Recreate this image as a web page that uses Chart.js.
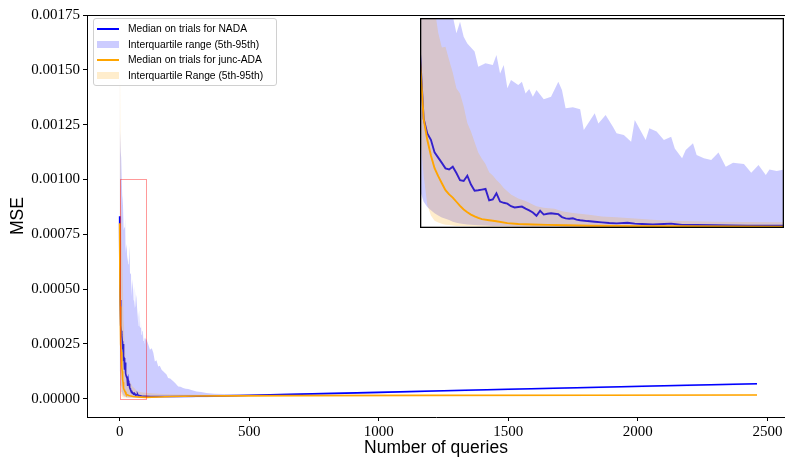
<!DOCTYPE html>
<html>
<head>
<meta charset="utf-8">
<script src="https://cdn.jsdelivr.net/npm/chart.js@4.4.1/dist/chart.umd.min.js"></script>
<style>
  html, body { margin: 0; padding: 0; background: #fff; overflow: hidden; }
  #wrap { position: relative; width: 785px; height: 457px; }
  #inset { position: absolute; left: 420px; top: 18px; background: #fff; }
  #legend { position: absolute; left: 93px; top: 18px; width: 184px; height: 68px; padding-top: 2px;
    box-sizing: border-box; background: rgba(255,255,255,0.8); border: 1px solid #d0d0d0; border-radius: 3px;
    font: 10.3px "Liberation Sans", Arial, sans-serif; color: #000; }
  .item { height: 15.5px; display: flex; align-items: center; white-space: nowrap; }
  .key { width: 22px; margin: 0 9px 0 3px; }
</style>
</head>
<body>
<div id="wrap">
  <canvas id="main" width="785" height="457"></canvas>
  <canvas id="inset" width="364" height="210"></canvas>
  <div id="legend"></div>
</div>
<script>
// values are MSE in units of 1e-6
const nadaX = [0,1,2,3,4,5,6,7,8,9,10,11,12,13,14,15,16,17,18,19,20,21,22,23,24,25,26,27,28,29,
  30,31,32,33,34,35,36,37,38,39,40,41,42,43,44,
  46,48,50,52,54,57,59,61,64,67,69,72,76,81,85,90,95,100,
  120,150,200,300,400,500,700,1000,1250,1500,1850,2100,2460];
const nadaMedian = [832,520,450,420,360,335,310,284,279,292,262,228,224,249,207,178,180,183,186,132,136,165,126,120,116,104,98,100,102,92,
  84,74,58,82,64,68,70,68,66,52,46,44,46,40,37,
  33,30,27,24,22,25,21,19,17,19,21,14,14,13,12,11,11,11,
  10,10,10,11,13,16,21,29,36,43,52,59,68];

const nadaBandX = [0,1,2,3,4,5,6,7,8,9,10,11,12,13,
  15,16,18,20,21,22,23,24,25,27,28,29,30,31,32,34,36,38,39,40,
  42,44,45,48,49,51,53,54,56,58,59,62,63,65,67,69,70,72,73,75,
  76,78,80,82,84,86,89,91,93,95,96,98,100,
  104,110,117,124,130,136,142,149,155,162,168,175,181,187,195,207,215,226,235,245,
  255,265,280,297,315,335,365,400,464,550,700,1000,1500,1850,2460];
const nadaHigh = [1900,1250,1200,1180,1150,1130,1100,1080,1060,1010,927,982,911,879,
  840,768,784,776,824,736,776,665,705,681,697,641,662,625,657,613,625,697,657,570,
  575,565,467,546,498,538,482,451,443,411,514,419,475,459,419,435,379,332,371,403,
  348,332,324,359,292,311,305,263,300,252,279,271,279,
  269,250,223,230,210,170,175,147,150,132,125,117,110,94,92,79,70,56,55,49,
  45,44,38,33,30,26,23,21,18,20,25,33,47,56,72];
const nadaLow = [180,125,100,85,70,60,50,44,38,30,25,22,19,17,
  14,13,12,10,10,9,9,8,8,7,7,7,7,6,6,6,6,6,5,5,
  5,5,5,5,5,5,4,4,4,4,4,4,4,4,4,4,4,4,4,4,
  4,4,4,4,4,4,4,4,4,4,4,4,4,
  4,4,4,4,4,4,4,5,5,5,5,5,5,5,5,5,6,6,6,6,
  6,6,6,7,7,7,8,8,9,11,17,25,39,48,64];

const juncX = [0,1,2,3,4,5,6,7,8,9,10,11,12,13,14,15,16,17,19,21,24,27,31,35,40,47,54,63,72,85,100,
  150,200,300,400,700,1200,1850,2460];
const juncMedian = [800,520,420,345,285,247,213,180,160,145,125,105,88,75,64,55,48,42,37,32,23,19,17,15,13,11,10,9,8,7,6,
  8,10,12,13,14,15,16,17];

const juncBandX = [0,1,2,3,4,5,6,7,8,9,10,11,12,13,14,15,16,17,18,19,
  20,21,22,23,25,27,29,30,32,34,37,39,42,44,47,50,54,58,63,67,
  72,81,90,100,150,200,300,500,700,1200,1850,2460];
const juncHigh = [2000,1700,1400,1200,1050,930,860,863,800,740,665,640,580,500,460,410,360,330,305,265,
  250,228,212,190,160,140,128,120,104,96,92,80,72,68,62,55,51,47,40,36,
  33,30,28,27,22,20,18,17,18,18,19,20];
const juncLow = [450,250,110,60,35,26,20,16,14,12,10,9,8,8,7,7,6,6,6,5,
  5,5,5,5,5,5,4,4,4,4,4,4,4,4,4,4,4,4,4,4,
  4,4,4,4,6,8,10,11,12,12,13,14];

const xTicks = [0, 500, 1000, 1500, 2000, 2500];
const xTickLabels = ['0', '500', '1000', '1500', '2000', '2500'];
const yTicks = [0, 0.00025, 0.0005, 0.00075, 0.001, 0.00125, 0.0015, 0.00175];
const yTickLabels = ['0.00000','0.00025','0.00050','0.00075','0.00100','0.00125','0.00150','0.00175'];

const insetXRange = [0, 100];
const insetYRange = [0, 0.001];

const labels = ['Median on trials for NADA', 'Interquartile range (5th-95th)',
  'Median on trials for junc-ADA', 'Interquartile Range (5th-95th)'];

const BLUE = '#0000ff', BLUE_FILL = 'rgba(0,0,255,0.2)';
const ORANGE = '#ffa500', ORANGE_FILL = 'rgba(255,165,0,0.2)';

function pts(xs, ys) {
  return xs.map((x, i) => ({ x: x, y: ys[i] * 1e-6 }));
}

function makeDatasets(lw) {
  return [
    { data: pts(nadaBandX, nadaLow), borderWidth: 0, fill: false, order: 7 },
    { label: labels[1], data: pts(nadaBandX, nadaHigh), borderWidth: 0, backgroundColor: BLUE_FILL, fill: '-1', order: 6 },
    { label: labels[0], data: pts(nadaX, nadaMedian), borderColor: BLUE, borderWidth: lw, fill: false, order: 5 },
    { data: pts(juncBandX, juncLow), borderWidth: 0, fill: false, order: 4 },
    { label: labels[3], data: pts(juncBandX, juncHigh), borderWidth: 0, backgroundColor: ORANGE_FILL, fill: '-1', order: 3 },
    { label: labels[2], data: pts(juncX, juncMedian), borderColor: ORANGE, borderWidth: lw, fill: false, order: 2 }
  ];
}

// spines: top line on the main plot, full box on the inset; plus the zoom rectangle
const frame = {
  id: 'frame',
  afterDatasetsDraw(chart, args, opts) {
    const a = chart.chartArea, c = chart.ctx;
    c.save();
    c.strokeStyle = '#000';
    c.lineWidth = 1;
    if (opts.full) {
      c.lineWidth = 1.3;
      c.strokeRect(a.left + 0.65, a.top + 0.65, a.right - a.left - 1.3, a.bottom - a.top - 1.3);
    } else {
      c.beginPath();
      c.moveTo(a.left, a.top + 0.5);
      c.lineTo(a.right, a.top + 0.5);
      c.stroke();
    }
    if (opts.box) {
      const xs = chart.scales.x, ys = chart.scales.y;
      const x0 = Math.round(xs.getPixelForValue(insetXRange[0])) + 0.5;
      const x1 = Math.round(xs.getPixelForValue(insetXRange[1])) + 0.5;
      const y0 = Math.round(ys.getPixelForValue(insetYRange[0])) + 0.5;
      const y1 = Math.round(ys.getPixelForValue(insetYRange[1])) + 0.5;
      c.strokeStyle = 'rgba(255,0,0,0.4)';
      c.lineWidth = 1;
      c.strokeRect(x0, y1, x1 - x0, y0 - y1);
    }
    c.restore();
  }
};

Chart.defaults.font.family = 'Liberation Serif';
Chart.defaults.color = '#000';

new Chart(document.getElementById('main'), {
  type: 'line',
  data: { datasets: makeDatasets(1.6) },
  options: {
    responsive: false,
    animation: false,
    layout: { padding: { top: 15, left: 0, right: 0, bottom: 0 } },
    elements: { point: { radius: 0 }, line: { tension: 0 } },
    plugins: { legend: { display: false }, tooltip: { enabled: false }, frame: { full: false, box: true } },
    scales: {
      x: {
        type: 'linear', min: -126, max: 2568,
        afterBuildTicks: s => { s.ticks = xTicks.map(v => ({ value: v })); },
        afterFit: s => { s.height = 40; },
        grid: { drawOnChartArea: false, color: '#000', tickLength: 4 },
        border: { color: '#000', width: 1 },
        ticks: { font: { size: 15 }, padding: 2, maxRotation: 0, autoSkip: false, callback: (v, i) => xTickLabels[i] },
        title: { display: true, text: 'Number of queries', font: { family: 'Liberation Sans', size: 17.5 }, padding: { bottom: -2 } }
      },
      y: {
        type: 'linear', min: -0.0000835, max: 0.00175,
        afterBuildTicks: s => { s.ticks = yTicks.map(v => ({ value: v })); },
        afterFit: s => { s.width = 87; },
        grid: { drawOnChartArea: false, color: '#000', tickLength: 4 },
        border: { color: '#000', width: 1 },
        ticks: { font: { size: 15 }, padding: 3, callback: (v, i) => yTickLabels[i] },
        title: { display: true, text: 'MSE', font: { family: 'Liberation Sans', size: 17.5 }, padding: { top: 8 } }
      }
    }
  },
  plugins: [frame]
});

new Chart(document.getElementById('inset'), {
  type: 'line',
  data: { datasets: makeDatasets(1.9) },
  options: {
    responsive: false,
    animation: false,
    layout: { padding: 0 },
    elements: { point: { radius: 0 }, line: { tension: 0 } },
    plugins: { legend: { display: false }, tooltip: { enabled: false }, frame: { full: true, box: false } },
    scales: {
      x: { type: 'linear', display: false, min: insetXRange[0], max: insetXRange[1] },
      y: { type: 'linear', display: false, min: insetYRange[0], max: insetYRange[1] }
    }
  },
  plugins: [frame]
});

// legend
const legendKeys = [
  { color: BLUE, patch: false }, { color: BLUE_FILL, patch: true },
  { color: ORANGE, patch: false }, { color: ORANGE_FILL, patch: true }
];
const legend = document.getElementById('legend');
labels.forEach((text, i) => {
  const row = document.createElement('div');
  row.className = 'item';
  const key = document.createElement('span');
  key.className = 'key';
  key.style.background = legendKeys[i].color;
  key.style.height = legendKeys[i].patch ? '7px' : '1.5px';
  row.appendChild(key);
  row.appendChild(document.createTextNode(text));
  legend.appendChild(row);
});
</script>
</body>
</html>
